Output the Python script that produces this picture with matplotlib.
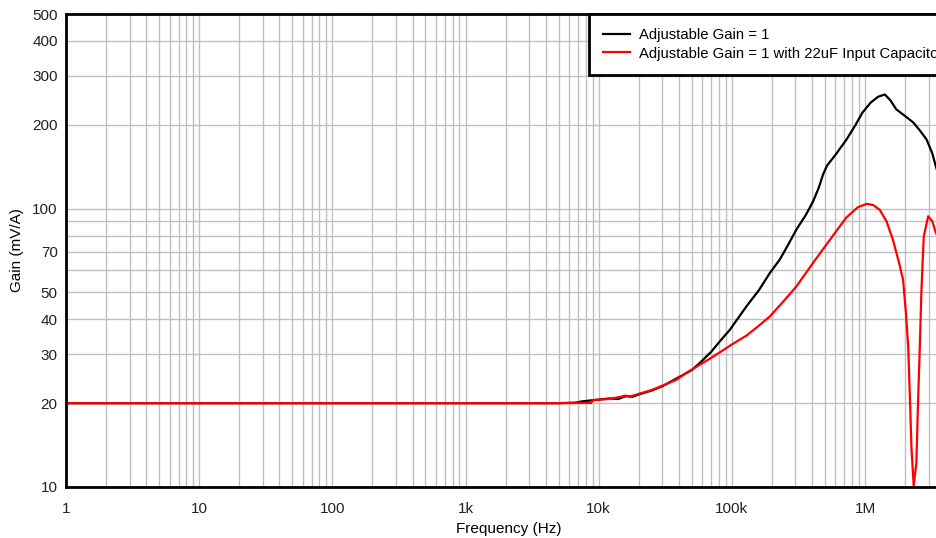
import matplotlib
matplotlib.use("Agg")
import matplotlib.pyplot as plt
from matplotlib.ticker import FixedLocator, FixedFormatter, NullFormatter

plt.rcParams['font.family'] = ['Liberation Sans', 'DejaVu Sans']

# frequency (Hz) / gain (mV/A)
freq_a = [1, 10, 100, 1000, 5000, 6800, 7500, 9000, 10000, 12000, 14000,
          16000, 18000, 20000, 25000, 30000, 40700, 50000, 57500, 70000,
          81000, 96600, 129000, 160000, 193000, 229000, 260000, 305000,
          360000, 407000, 450000, 485000, 520000, 600000, 726000, 850000,
          955000, 1.1e6, 1.25e6, 1.41e6, 1.55e6, 1.72e6, 2.0e6, 2.3e6,
          2.6e6, 2.9e6, 3.2e6, 3.4e6, 3.7e6]
gain_a = [20, 20, 20, 20, 20, 20.1, 20.3, 20.5, 20.6, 20.8, 20.7,
          21.2, 21.1, 21.5, 22.2, 23.0, 24.9, 26.3, 27.9, 30.6,
          33.3, 36.7, 44.6, 51, 58.7, 65.6, 73, 84,
          95, 106, 119, 133, 143, 156, 177, 200,
          221, 240, 252, 257, 245, 227, 215, 204,
          190, 177, 158, 142, 125]

freq_b = [1, 10, 100, 1000, 5000, 8800, 9000, 10000, 12000, 14000, 16000,
          17000, 20000, 25000, 30000, 38500, 45000, 57500, 72500, 100000,
          129000, 160000, 193000, 240000, 305000, 407000, 500000, 646000,
          726000, 880000, 1.03e6, 1.15e6, 1.29e6, 1.45e6, 1.62e6, 1.8e6,
          1.93e6, 2.03e6, 2.11e6, 2.18e6, 2.23e6, 2.32e6, 2.43e6, 2.5e6,
          2.58e6, 2.65e6, 2.76e6, 2.98e6, 3.2e6, 3.4e6, 3.7e6]
gain_b = [20, 20, 20, 20, 20, 20.05, 20.5, 20.6, 20.7, 21.0, 21.3,
          21.1, 21.6, 22.3, 23.1, 24.3, 25.6, 27.5, 29.4, 32.5,
          35, 38, 41, 46, 52.5, 63.8, 73, 86.3,
          93, 101, 104, 103, 99, 90, 77.3, 64,
          55.6, 42, 32, 20, 14, 10.1, 12.2, 20,
          32, 50, 79.3, 93.9, 90, 82, 76]

labels = ["Adjustable Gain = 1",
          "Adjustable Gain = 1 with 22uF Input Capacitor"]

x_ticks = [1, 10, 100, 1e3, 1e4, 1e5, 1e6]
x_tick_labels = ["1", "10", "100", "1k", "10k", "100k", "1M"]
y_ticks = [10, 20, 30, 40, 50, 70, 100, 200, 300, 400, 500]
y_minor = [60, 80, 90]

W, H = 936, 538
fig = plt.figure(figsize=(W / 100, H / 100), dpi=100)
ax = fig.add_axes([66 / W, 51 / H, (952 - 66) / W, (487 - 14) / H])

ax.plot(freq_a, gain_a, color='black', lw=1.6, label=labels[0])
ax.plot(freq_b, gain_b, color='#ff0000', lw=1.6, label=labels[1])

ax.set_xscale('log')
ax.set_yscale('log')
ax.set_xlim(1, 4.5e6)
ax.set_ylim(10, 500)

ax.xaxis.set_major_locator(FixedLocator(x_ticks))
ax.xaxis.set_major_formatter(FixedFormatter(x_tick_labels))
ax.xaxis.set_minor_locator(FixedLocator(
    [m * 10 ** d for d in range(0, 7) for m in range(2, 10)]))
ax.xaxis.set_minor_formatter(NullFormatter())
ax.yaxis.set_major_locator(FixedLocator(y_ticks))
ax.yaxis.set_major_formatter(FixedFormatter([str(v) for v in y_ticks]))
ax.yaxis.set_minor_locator(FixedLocator(y_minor))
ax.yaxis.set_minor_formatter(NullFormatter())

ax.grid(True, which='both', color='#c0c0c0', lw=1.0)
ax.set_axisbelow(True)
ax.tick_params(which='both', length=0, labelsize=11, colors='#222222')
ax.tick_params(axis='x', pad=11)
ax.tick_params(axis='y', pad=6)

for s in ax.spines.values():
    s.set_linewidth(2.0)
    s.set_color('black')

ax.set_xlabel("Frequency (Hz)", fontsize=11, labelpad=4)
ax.set_ylabel("Gain (mV/A)", fontsize=11, labelpad=6)

leg = ax.legend(loc='upper right', bbox_to_anchor=(1.006, 1.0),
                borderaxespad=0, fontsize=10.7,
                fancybox=False, handlelength=1.8, handletextpad=0.6,
                labelspacing=0.3, borderpad=0.95)
leg.get_frame().set_edgecolor('black')
leg.get_frame().set_linewidth(2.0)
leg.get_frame().set_alpha(1)

fig.savefig("out.png", dpi=100)
